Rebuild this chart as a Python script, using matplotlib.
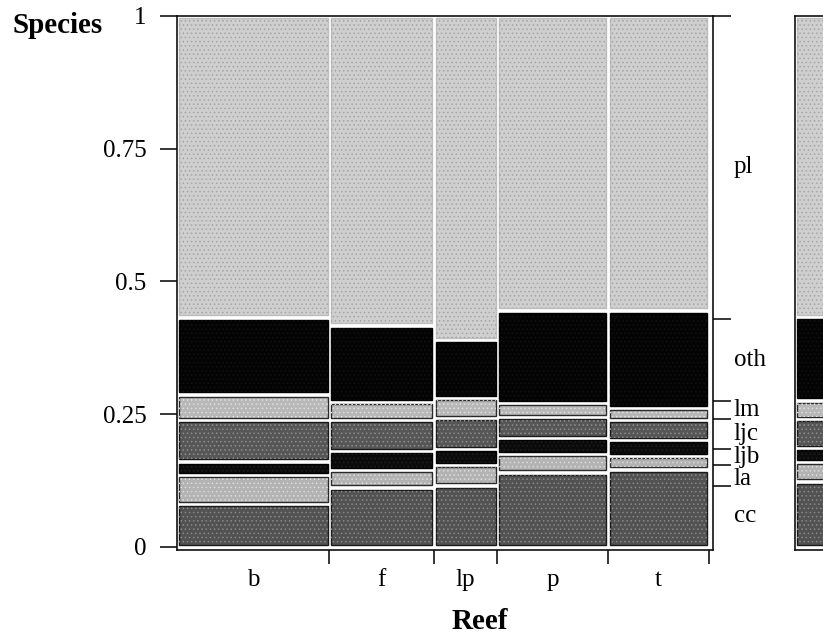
import numpy as np
import matplotlib
matplotlib.use("Agg")
import matplotlib.pyplot as plt
from matplotlib.patches import Rectangle
import matplotlib.transforms as mtransforms

plt.rcParams["font.family"] = ["Liberation Serif", "DejaVu Serif"]
plt.rcParams["hatch.linewidth"] = 0.6

reefs = ["b", "f", "lp", "p", "t"]
reef_share = [0.286, 0.197, 0.119, 0.208, 0.190]
species = ["cc", "la", "ljb", "ljc", "lm", "oth", "pl"]

# species proportions inside each reef, bottom (cc) to top (pl)
prop_b = [0.077, 0.049, 0.019, 0.074, 0.043, 0.145, 0.593]
prop_f = [0.110, 0.027, 0.029, 0.053, 0.028, 0.144, 0.609]
prop_lp = [0.114, 0.032, 0.024, 0.053, 0.032, 0.107, 0.638]
prop_p = [0.140, 0.029, 0.023, 0.033, 0.020, 0.176, 0.579]
prop_t = [0.146, 0.018, 0.024, 0.031, 0.016, 0.186, 0.579]

# first reef column of the neighbouring panel
prop_next = [0.122, 0.030, 0.020, 0.050, 0.028, 0.158, 0.592]
next_share = 0.25

# fill, stipple dots, outline for each species
face = {"cc": "#525252", "la": "#b3b3b3", "ljb": "#0b0b0b", "ljc": "#565656",
        "lm": "#b8b8b8", "oth": "#040404", "pl": "#cfcfcf"}
dots = {"cc": "#8a8a8a", "la": "#dcdcdc", "ljb": "#1e1e1e", "ljc": "#8e8e8e",
        "lm": "#e0e0e0", "oth": "#111111", "pl": "#a5a5a5"}
edge = {"cc": "#1a1a1a", "la": "#2a2a2a", "ljb": "#000000", "ljc": "#1a1a1a",
        "lm": "#2a2a2a", "oth": "#000000", "pl": "#bdbdbd"}

GX = 0.006   # gap between reef columns
GY = 0.008   # gap between species tiles
LABEL_SEP = 0.042  # minimum vertical spacing of the species labels


def draw_column(ax, x0, width, props):
    """Stack one reef's species tiles; returns mid-gap boundaries."""
    usable = 1 - GY * len(props)
    y = GY / 2
    bounds = []
    for sp, p in zip(species, props):
        h = p * usable
        x = x0 + GX / 2
        w = width - GX
        ax.add_patch(Rectangle((x, y), w, h, facecolor=face[sp],
                               edgecolor=edge[sp], linewidth=1.0, zorder=2))
        ax.add_patch(Rectangle((x, y), w, h, facecolor="none",
                               edgecolor=dots[sp], linewidth=0, hatch="....",
                               zorder=3))
        y += h + GY
        bounds.append(y - GY / 2)
    return bounds[:-1]


fig = plt.figure(figsize=(8.23, 6.36), dpi=100)
ax = fig.add_axes([177 / 823, 86 / 636, 536 / 823, 534 / 636])
ax.set_xlim(0, 1.0075)
ax.set_ylim(-0.0057, 1.0)

all_props = [prop_b, prop_f, prop_lp, prop_p, prop_t]
starts = np.concatenate([[0], np.cumsum(reef_share)[:-1]])
col_bounds = []
for x0, w, props in zip(starts, reef_share, all_props):
    col_bounds.append(draw_column(ax, x0, w, props))

# marginal species boundaries for the right-hand axis
share = np.array(reef_share)
marg = (np.array(col_bounds) * share[:, None]).sum(axis=0) / share.sum()
edges_r = np.concatenate([[0], marg, [1]])

for sp in ax.spines.values():
    sp.set_linewidth(1.2)
    sp.set_color("#111111")

ax.set_yticks([0, 0.25, 0.5, 0.75, 1])
ax.set_yticklabels(["0", "0.25", "0.5", "0.75", "1"])
ax.tick_params(axis="y", direction="out", length=12, width=1.1, pad=10,
               labelsize=18)

ends = np.cumsum(reef_share)
ax.set_xticks(ends)
ax.set_xticklabels([])
ax.set_xticks(starts + share / 2, minor=True)
ax.set_xticklabels(reefs, minor=True)
ax.tick_params(axis="x", which="major", direction="out", length=10, width=1.1)
ax.tick_params(axis="x", which="minor", length=0, pad=14, labelsize=18)

ax_r = ax.twinx()
ax_r.set_ylim(ax.get_ylim())
ax_r.set_yticks(list(marg) + [1.0])
ax_r.set_yticklabels([])
ax_r.tick_params(axis="y", direction="out", length=13, width=1.1)
for sp in ax_r.spines.values():
    sp.set_visible(False)

# species names at the middle of each marginal band, pushed apart if crowded
label_y = [(edges_r[i] + edges_r[i + 1]) / 2 for i in range(len(species))]
for i in range(len(species) - 2, -1, -1):
    if label_y[i + 1] - label_y[i] < LABEL_SEP:
        label_y[i] = label_y[i + 1] - LABEL_SEP

trans = mtransforms.blended_transform_factory(ax.transAxes, ax.transData)
for sp, ly in zip(species, label_y):
    ax.annotate(sp, xy=(1, ly), xycoords=trans, xytext=(15, 0),
                textcoords="offset points", ha="left", va="center",
                fontsize=18)

# neighbouring panel, cut off by the figure edge
ax2 = fig.add_axes([795 / 823, 86 / 636, 536 / 823, 534 / 636])
ax2.set_xlim(0, 1.0075)
ax2.set_ylim(-0.0057, 1.0)
draw_column(ax2, 0.0, next_share, prop_next)
ax2.set_xticks([])
ax2.set_yticks([])
for sp in ax2.spines.values():
    sp.set_linewidth(1.2)
    sp.set_color("#111111")

fig.text(12 / 823, 1 - 33 / 636, "Species", fontsize=21, fontweight="bold",
         va="baseline", ha="left")
fig.text(480 / 823, 1 - 629 / 636, "Reef", fontsize=21, fontweight="bold",
         va="baseline", ha="center")

fig.savefig("out.png", dpi=100)
